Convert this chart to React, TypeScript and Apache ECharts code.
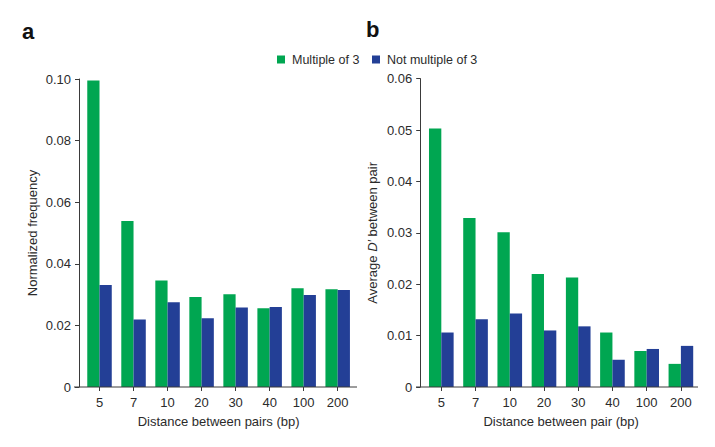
import React, { useEffect, useRef } from "react";
import * as echarts from "echarts";

const categories = ["5", "7", "10", "20", "30", "40", "100", "200"];
const seriesNames = ["Multiple of 3", "Not multiple of 3"];
const freqMultiple = [0.0995, 0.0539, 0.0346, 0.0292, 0.0301, 0.0256, 0.0321, 0.0317];
const freqNotMultiple = [0.0331, 0.0219, 0.0275, 0.0223, 0.0258, 0.026, 0.0299, 0.0315];
const dMultiple = [0.0503, 0.0329, 0.0301, 0.022, 0.0213, 0.0106, 0.007, 0.0045];
const dNotMultiple = [0.0106, 0.0132, 0.0143, 0.011, 0.0118, 0.0053, 0.0074, 0.008];

const GREEN = "#00a651";
const BLUE = "#233f96";
const AXIS = "#3a3a3a";
const TEXT = "#2b2b2b";
const FONT = "'Liberation Sans', Arial, Helvetica, sans-serif";

const fmt = (v: number) => (v === 0 ? "0" : v.toFixed(2));

export default function App() {
  const ref = useRef<HTMLDivElement>(null);
  useEffect(() => {
    if (!ref.current) return;
    const chart = echarts.init(ref.current, undefined, { renderer: "svg" });

    const xAxisCommon = {
      type: "category" as const,
      data: categories,
      axisLine: { show: false },
      axisTick: { show: true, alignWithLabel: true, length: 4, lineStyle: { color: AXIS } },
      axisLabel: { color: TEXT, fontSize: 13, fontFamily: FONT, margin: 9 },
      nameLocation: "middle" as const,
      nameGap: 28,
      nameTextStyle: { color: TEXT, fontSize: 13, fontFamily: FONT },
    };
    const yAxisCommon = {
      type: "value" as const,
      min: 0,
      splitLine: { show: false },
      axisLine: { show: true, lineStyle: { color: AXIS } },
      axisTick: { show: true, length: 4, lineStyle: { color: AXIS } },
      axisLabel: { color: TEXT, fontSize: 13, fontFamily: FONT, margin: 8, formatter: fmt },
      nameLocation: "middle" as const,
      nameTextStyle: { color: TEXT, fontSize: 13, fontFamily: FONT },
    };

    chart.setOption({
      animation: false,
      backgroundColor: "#ffffff",
      textStyle: { fontFamily: FONT },
      legend: [
        {
          data: [seriesNames[0]],
          left: 277,
          top: 53,
          padding: 0,
          itemWidth: 8,
          itemHeight: 8,
          icon: "rect",
          textStyle: { color: TEXT, fontSize: 12.5, fontFamily: FONT, padding: [0, 0, 0, 2] },
        },
        {
          data: [seriesNames[1]],
          left: 372,
          top: 53,
          padding: 0,
          itemWidth: 8,
          itemHeight: 8,
          icon: "rect",
          textStyle: { color: TEXT, fontSize: 12.5, fontFamily: FONT, padding: [0, 0, 0, 2] },
        },
      ],
      grid: [
        { left: 82.5, top: 79, width: 272.2, height: 308 },
        { left: 424.2, top: 78.6, width: 273.8, height: 308.4 },
      ],
      xAxis: [
        { ...xAxisCommon, gridIndex: 0, name: "Distance between pairs (bp)" },
        { ...xAxisCommon, gridIndex: 1, name: "Distance between pair (bp)" },
      ],
      yAxis: [
        {
          ...yAxisCommon,
          gridIndex: 0,
          max: 0.1,
          interval: 0.02,
          offset: 3.5,
          name: "Normalized frequency",
          nameGap: 40,
        },
        {
          ...yAxisCommon,
          gridIndex: 1,
          max: 0.06,
          interval: 0.01,
          offset: 4,
          name: "Average {i|D′} between pair",
          nameGap: 41,
          nameTextStyle: {
            color: TEXT,
            fontSize: 13,
            fontFamily: FONT,
            rich: { i: { fontStyle: "italic", fontSize: 13, color: TEXT, fontFamily: FONT } },
          },
        },
      ],
      series: [
        { type: "bar", name: seriesNames[0], xAxisIndex: 0, yAxisIndex: 0, data: freqMultiple, itemStyle: { color: GREEN }, barWidth: "36%", barGap: "0%" },
        { type: "bar", name: seriesNames[1], xAxisIndex: 0, yAxisIndex: 0, data: freqNotMultiple, itemStyle: { color: BLUE }, barWidth: "36%", barGap: "0%" },
        { type: "bar", name: seriesNames[0], xAxisIndex: 1, yAxisIndex: 1, data: dMultiple, itemStyle: { color: GREEN }, barWidth: "36%", barGap: "0%" },
        { type: "bar", name: seriesNames[1], xAxisIndex: 1, yAxisIndex: 1, data: dNotMultiple, itemStyle: { color: BLUE }, barWidth: "36%", barGap: "0%" },
      ],
      graphic: [
        { type: "line", shape: { x1: 74, y1: 387, x2: 357, y2: 387 }, style: { stroke: AXIS, lineWidth: 1 }, z: 10 },
        { type: "line", shape: { x1: 416, y1: 387, x2: 698, y2: 387 }, style: { stroke: AXIS, lineWidth: 1 }, z: 10 },
        { type: "text", left: 22, top: 20, style: { text: "a", fontSize: 22, fontWeight: "bold", fill: "#111", fontFamily: FONT } },
        { type: "text", left: 366, top: 18, style: { text: "b", fontSize: 22, fontWeight: "bold", fill: "#111", fontFamily: FONT } },
      ],
    });
    return () => chart.dispose();
  }, []);
  return (
    <div
      ref={ref}
      style={{ position: "fixed", left: 0, top: 0, width: 715, height: 447, background: "#fff" }}
    />
  );
}
